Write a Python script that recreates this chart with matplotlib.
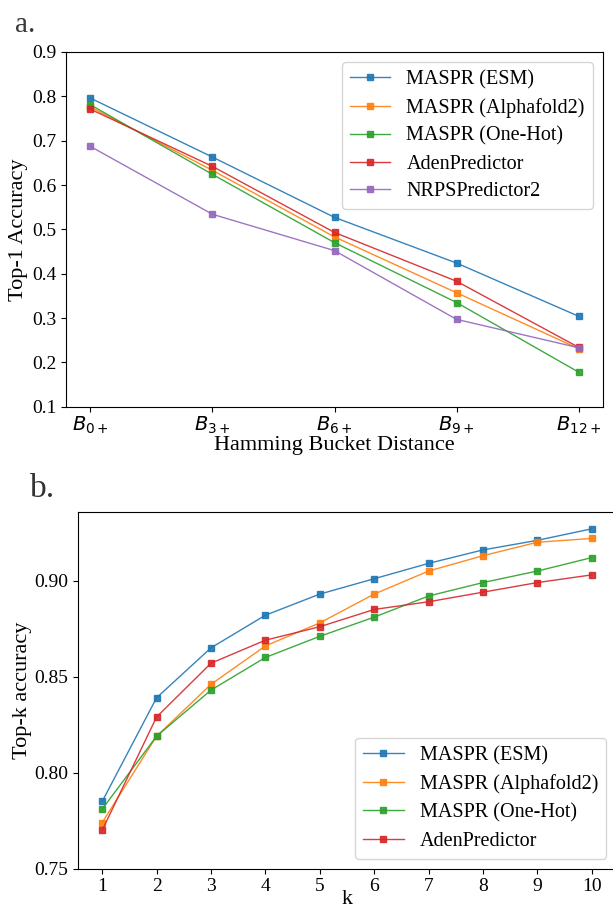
import matplotlib
matplotlib.use("Agg")
import matplotlib.pyplot as plt
from matplotlib.ticker import FormatStrFormatter
from matplotlib.transforms import blended_transform_factory

plt.rcParams["font.family"] = ["Liberation Serif", "DejaVu Serif"]
plt.rcParams["mathtext.fontset"] = "dejavusans"

# Panel a: top-1 accuracy per Hamming bucket
buckets = [r"$B_{0+}$", r"$B_{3+}$", r"$B_{6+}$", r"$B_{9+}$", r"$B_{12+}$"]
top1_esm = [0.796, 0.663, 0.527, 0.424, 0.304]
top1_af2 = [0.776, 0.633, 0.483, 0.357, 0.231]
top1_onehot = [0.781, 0.624, 0.470, 0.335, 0.178]
top1_aden = [0.771, 0.642, 0.493, 0.383, 0.234]
top1_nrps = [0.687, 0.534, 0.452, 0.297, 0.233]

# Panel b: top-k accuracy
k_values = [1, 2, 3, 4, 5, 6, 7, 8, 9, 10]
topk_esm = [0.785, 0.839, 0.865, 0.882, 0.893, 0.901, 0.909, 0.916, 0.921, 0.927]
topk_af2 = [0.774, 0.819, 0.846, 0.866, 0.878, 0.893, 0.905, 0.913, 0.920, 0.922]
topk_onehot = [0.781, 0.819, 0.843, 0.860, 0.871, 0.881, 0.892, 0.899, 0.905, 0.912]
topk_aden = [0.770, 0.829, 0.857, 0.869, 0.876, 0.885, 0.889, 0.894, 0.899, 0.903]

labels_a = ["MASPR (ESM)", "MASPR (Alphafold2)", "MASPR (One-Hot)",
            "AdenPredictor", "NRPSPredictor2"]
labels_b = labels_a[:4]
colors = ["#1f77b4", "#ff7f0e", "#2ca02c", "#d62728", "#9467bd"]

W, H = 613, 911
fig = plt.figure(figsize=(W / 100, H / 100), dpi=100)

def px_axes(left, right, top, bottom):
    return fig.add_axes([left / W, 1 - bottom / H, (right - left) / W, (bottom - top) / H])

line_kw = dict(marker="s", markersize=4.3, linewidth=1.0, alpha=0.9)
tick_fs = 14
label_fs = 16
legend_fs = 14.5

# ---- panel a ----
ax1 = px_axes(66, 603, 52, 406.7)
xa = range(len(buckets))
for ys, lab, c in zip([top1_esm, top1_af2, top1_onehot, top1_aden, top1_nrps], labels_a, colors):
    ax1.plot(xa, ys, color=c, label=lab, **line_kw)
ax1.set_xticks(list(xa))
ax1.set_xticklabels(buckets, fontsize=14)
ax1.tick_params(axis="x", pad=2)
ax1.set_ylim(0.1, 0.9)
ax1.set_yticks([0.1, 0.2, 0.3, 0.4, 0.5, 0.6, 0.7, 0.8, 0.9])
ax1.yaxis.set_major_formatter(FormatStrFormatter("%.1f"))
ax1.tick_params(axis="y", labelsize=tick_fs)
ax1.set_xlabel("Hamming Bucket Distance", fontsize=label_fs, labelpad=0)
ax1.set_ylabel("Top-1 Accuracy", fontsize=label_fs)
ax1.yaxis.set_label_coords((28 - 66) / 537, 0.5)
ax1.legend(loc="upper right", fontsize=legend_fs, labelspacing=0.43)
fig.text(15 / W, 1 - 32 / H, "a.", fontsize=21, color="#3a3a3a", ha="left", va="baseline")

# ---- panel b ----
ax2 = px_axes(77.7, 616.2, 512.3, 868.7)
for ys, lab, c in zip([topk_esm, topk_af2, topk_onehot, topk_aden], labels_b, colors):
    ax2.plot(k_values, ys, color=c, label=lab, **line_kw)
ax2.set_xticks(k_values)
ax2.set_ylim(0.75, 0.9356)
ax2.set_yticks([0.75, 0.80, 0.85, 0.90])
ax2.yaxis.set_major_formatter(FormatStrFormatter("%.2f"))
ax2.tick_params(axis="both", labelsize=tick_fs)
ax2.set_xlabel("k", fontsize=label_fs)
# keep the k label inside the figure, centred under the axes
ax2.xaxis.set_label_coords(0.5, 1.5 / H,
                           transform=blended_transform_factory(ax2.transAxes, fig.transFigure))
ax2.xaxis.label.set_va("bottom")
ax2.set_ylabel("Top-k accuracy", fontsize=label_fs)
ax2.yaxis.set_label_coords((32 - 77.7) / 538.5, 0.5)
ax2.legend(loc="lower right", fontsize=legend_fs, labelspacing=0.45)
fig.text(30 / W, 1 - 497 / H, "b.", fontsize=24, color="#333333", ha="left", va="baseline")

fig.savefig("out.png", dpi=100)
